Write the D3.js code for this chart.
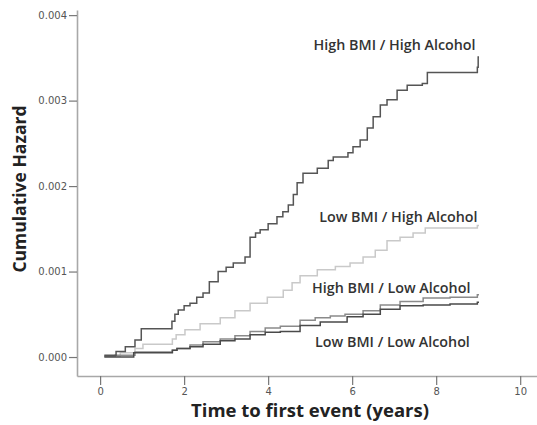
<!DOCTYPE html>
<html><head><meta charset="utf-8">
<script src="https://cdn.jsdelivr.net/npm/d3@7"></script>
<style>
html,body{margin:0;padding:0;background:#fff;}
svg{display:block;}
</style></head>
<body>
<svg id="chart" width="537" height="425"></svg>
<script>
// ---- data ----
const xTicks = [0, 2, 4, 6, 8, 10];
const yTicks = [0.000, 0.001, 0.002, 0.003, 0.004];
const seriesNames = ["High BMI / High Alcohol", "Low BMI / High Alcohol", "High BMI / Low Alcohol", "Low BMI / Low Alcohol"];

const hhTime = [0.1,0.38,0.6,0.83,0.98,1.71,1.78,1.86,2.0,2.14,2.3,2.45,2.6,2.81,3.0,3.17,3.45,3.57,3.7,3.81,4.0,4.21,4.35,4.48,4.6,4.69,4.83,5.17,5.43,5.55,5.9,6.02,6.19,6.36,6.5,6.67,6.83,7.07,7.31,7.67,7.79,8.98,9.0,9.02];
const hhVal  = [0.00002,0.000064,0.00012,0.0002,0.00033,0.00042,0.0005,0.00055,0.0006,0.00063,0.0007,0.00075,0.00088,0.001,0.00105,0.0011,0.00117,0.0014,0.00145,0.00149,0.00156,0.00164,0.0017,0.00178,0.0019,0.00204,0.00215,0.00221,0.0023,0.00234,0.00239,0.00246,0.00254,0.00268,0.00281,0.00295,0.00301,0.00312,0.00318,0.0032,0.00333,0.00339,0.00351,0.00351];

const lhTime = [0.1,0.48,0.83,1.02,1.72,1.81,2.02,2.38,2.86,3.21,3.57,3.98,4.36,4.57,4.76,5.17,5.6,5.95,6.26,6.55,6.83,7.14,7.45,7.74,8.98,9.02];
const lhVal  = [0.00001,0.00005,0.0001,0.00015,0.00021,0.00026,0.00032,0.00039,0.00046,0.00054,0.00063,0.0007,0.00078,0.00087,0.00095,0.00102,0.00106,0.0011,0.00117,0.00125,0.00136,0.0014,0.00145,0.00151,0.00154,0.00154];

const hlTime = [0.1,0.36,0.83,1.72,1.83,2.14,2.45,2.86,3.21,3.57,3.93,4.29,4.76,5.12,5.48,5.83,6.26,6.67,7.14,7.69,8.33,8.98,9.02];
const hlVal  = [0.00001,0.00002,0.00006,0.00008,0.0001,0.00014,0.00018,0.00021,0.00025,0.0003,0.00034,0.00036,0.00043,0.00046,0.00048,0.0005,0.00054,0.00061,0.00065,0.00069,0.0007,0.00073,0.00073];

const llTime = [0.1,0.8,1.72,1.83,2.14,2.45,2.86,3.21,3.57,3.93,4.29,4.76,5.24,5.88,6.26,6.67,7.14,7.69,8.33,8.98,9.02];
const llVal  = [0.0,0.00005,0.00008,0.0001,0.00012,0.00015,0.00019,0.00021,0.00026,0.00029,0.0003,0.00037,0.00041,0.00047,0.0005,0.00056,0.0006,0.00061,0.00062,0.00064,0.00064];

const series = [
  {name: seriesNames[0], t: hhTime, v: hhVal, color: "#555555"},
  {name: seriesNames[1], t: lhTime, v: lhVal, color: "#c9c9c9"},
  {name: seriesNames[2], t: hlTime, v: hlVal, color: "#8a8a8a"},
  {name: seriesNames[3], t: llTime, v: llVal, color: "#4a4a4a"}
];
// label anchor points (data coords)
const labelT = [7.01, 7.1, 6.93, 6.96];
const labelV = [0.00359, 0.00158, 0.00075, 0.00012];

// ---- layout ----
const svg = d3.select("#chart");
const W = 537, H = 425;
const m = {left: 77, right: 0, top: 10, bottom: 49};

const x = d3.scaleLinear().domain([-0.55, 10.4]).range([m.left, W - m.right]);
const y = d3.scaleLinear().domain([-0.000222, 0.00406]).range([H - m.bottom, m.top]);

svg.append("rect").attr("width", W).attr("height", H).attr("fill", "#ffffff");

// axes
const gy = svg.append("g").attr("transform", `translate(${m.left},0)`)
  .call(d3.axisLeft(y).tickValues(yTicks).tickFormat(d3.format(".3f")).tickSize(8).tickPadding(2).tickSizeOuter(0));
const gx = svg.append("g").attr("transform", `translate(0,${H - m.bottom})`)
  .call(d3.axisBottom(x).tickValues(xTicks).tickFormat(d3.format("d")).tickSize(9).tickPadding(3).tickSizeOuter(0));

[gy, gx].forEach(g => {
  g.select(".domain").attr("stroke", "#a8a8a8").attr("stroke-width", 1.6);
  g.selectAll(".tick line").attr("stroke", "#777").attr("stroke-width", 1.2);
  g.selectAll(".tick text").attr("fill", "#555").attr("font-family", "DejaVu Sans, sans-serif").attr("font-size", 10);
});

// lines
const line = d3.line().curve(d3.curveStepAfter).x(d => x(d[0])).y(d => y(d[1]));
svg.append("g").selectAll("path").data([series[1], series[2], series[3], series[0]]).join("path")
  .attr("d", s => line(s.t.map((t, i) => [t, s.v[i]])))
  .attr("fill", "none")
  .attr("stroke", s => s.color)
  .attr("stroke-width", 1.5);

// labels
svg.append("g").selectAll("text").data(series).join("text")
  .attr("x", (s, i) => x(labelT[i]))
  .attr("y", (s, i) => y(labelV[i]))
  .attr("text-anchor", "middle")
  .attr("font-family", "Open Sans, sans-serif")
  .attr("font-weight", 600)
  .attr("font-size", 14.3)
  .attr("fill", "#333")
  .text(s => s.name);

// axis titles
svg.append("text")
  .attr("x", 310).attr("y", 417)
  .attr("text-anchor", "middle")
  .attr("font-family", "Open Sans, sans-serif")
  .attr("font-weight", 700)
  .attr("font-size", 18.5)
  .attr("fill", "#222")
  .text("Time to first event (years)");

svg.append("text")
  .attr("transform", "translate(26,189) rotate(-90)")
  .attr("text-anchor", "middle")
  .attr("font-family", "Open Sans, sans-serif")
  .attr("font-weight", 700)
  .attr("font-size", 17.5)
  .attr("fill", "#222")
  .text("Cumulative Hazard");
</script>
</body></html>
